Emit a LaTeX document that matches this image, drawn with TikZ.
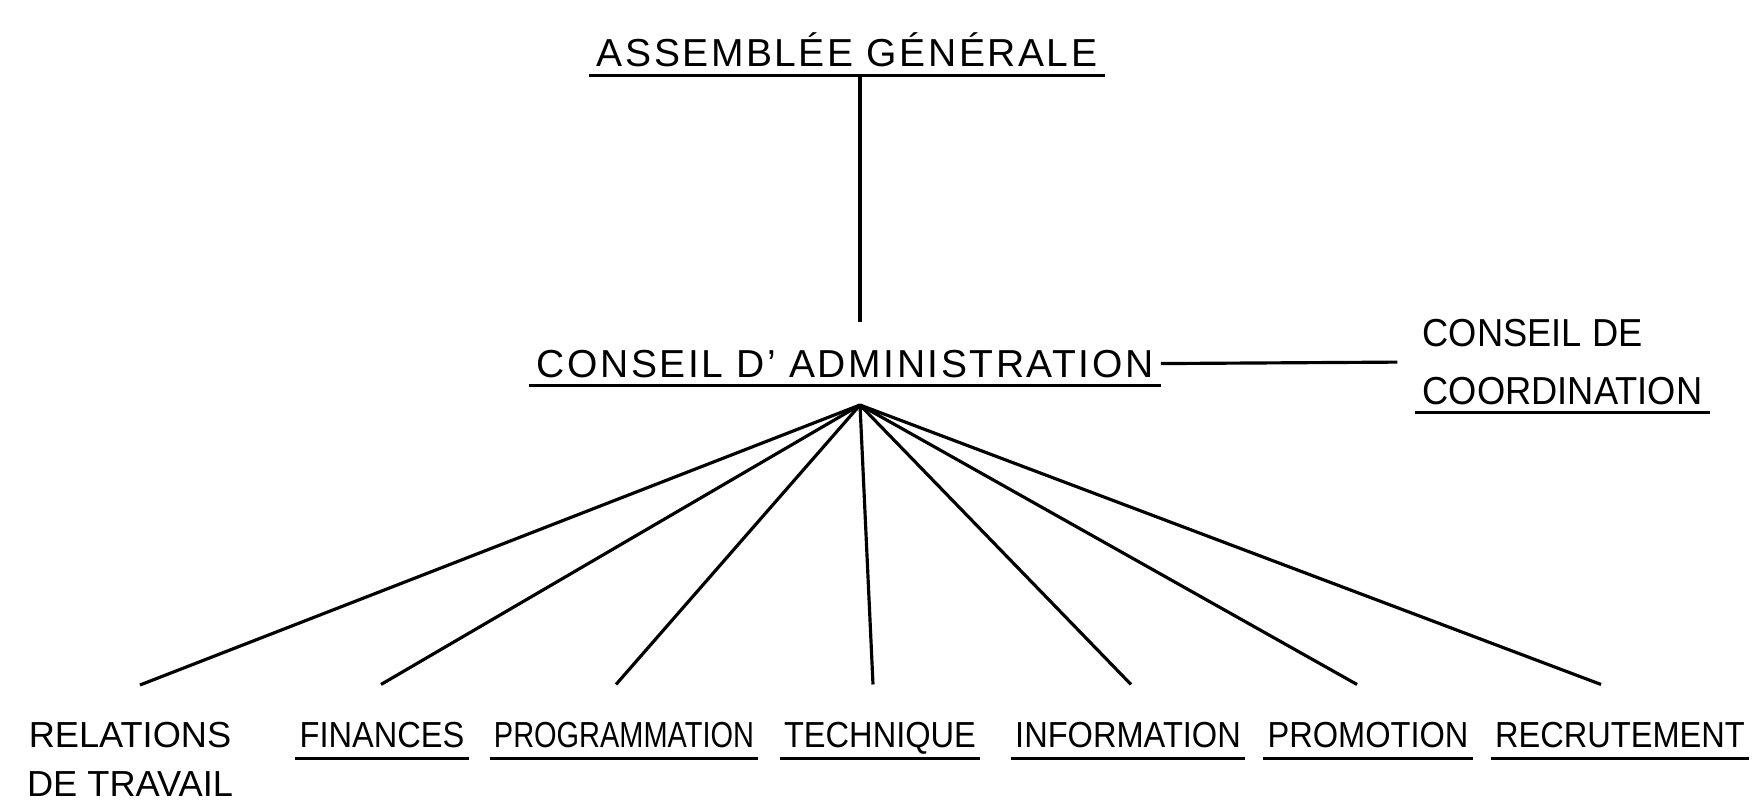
\documentclass[tikz,border=0pt]{standalone}
\usepackage{fontspec}
\setmainfont{Liberation Sans}
\newfontfamily\lettrage[LetterSpace=6.5]{Liberation Sans}
\newfontfamily\lettrageetroit[FakeStretch=0.93]{Liberation Sans}
\newfontfamily\lettrageservice[FakeStretch=0.9]{Liberation Sans}
\newfontfamily\lettrageserre[FakeStretch=0.8]{Liberation Sans}

\begin{document}
\begin{tikzpicture}
		% Styles for the lettering and the strokes
		\tikzset{
			titre/.style={font=\lettrage\fontsize{11.1}{13}\selectfont, inner xsep=2pt, inner ysep=2pt, anchor=base},
			coord/.style={font=\lettrageetroit\fontsize{11.1}{16.6}\selectfont, align=left, inner xsep=2pt, inner ysep=2pt, anchor=west},
			service/.style={font=\lettrageservice\fontsize{10.3}{13.9}\selectfont, text depth=0pt, inner xsep=1pt, inner ysep=3pt, anchor=base},
			trait/.style={line width=0.9pt},
			souligne/.style={line width=0.8pt}
		}
		\useasboundingbox (0,0) rectangle (17.53,8.02);
		
		% top of the chart
		\node[titre] (ag) at (8.47,7.35) {ASSEMBLÉE GÉNÉRALE};
		\node[titre] (ca) at (8.45,4.25) {CONSEIL D’ ADMINISTRATION};
		\node[coord] (cdc) at (14.15,4.40) {CONSEIL DE\\COORDINATION};
		
		% point where the fan starts
		\def\sommetx{8.6}
		\def\sommety{3.97}
		\coordinate (sommet) at (\sommetx,\sommety);
		
		% services
		\node[service, font=\fontsize{10.3}{13.9}\selectfont, anchor=north, align=center] (rel) at (1.30,0.91) {RELATIONS\\DE TRAVAIL};
		\node[service] (fin) at (3.82,0.55) {FINANCES};
		\node[service, font=\lettrageserre\fontsize{10.3}{13.9}\selectfont] (prog) at (6.24,0.55) {PROGRAMMATION};
		\node[service] (tech) at (8.80,0.55) {TECHNIQUE};
		\node[service] (info) at (11.28,0.55) {INFORMATION};
		\node[service] (promo) at (13.68,0.55) {PROMOTION};
		\node[service] (recr) at (16.20,0.55) {RECRUTEMENT};
		
		% underlines
		\foreach \n in {ag,ca,cdc,rel,fin,prog,tech,info,promo,recr}
			\draw[souligne] (\n.south west) -- (\n.south east);
		
		% links
		\draw[trait, shorten >=5.7pt] (ag.south -| sommet) -- (ca.north -| sommet);
		\draw[trait, shorten >=5pt] (ca.east) -- (cdc.west);
		
		% fan towards the services
		\foreach \n/\dx in {rel/0.10, fin/-0.01, prog/-0.08, tech/-0.07, info/0.03, promo/-0.11, recr/-0.19}
			\draw[trait] (sommet) -- ([xshift=\dx cm, yshift=7.4pt]\n.north);
\end{tikzpicture}
\end{document}
